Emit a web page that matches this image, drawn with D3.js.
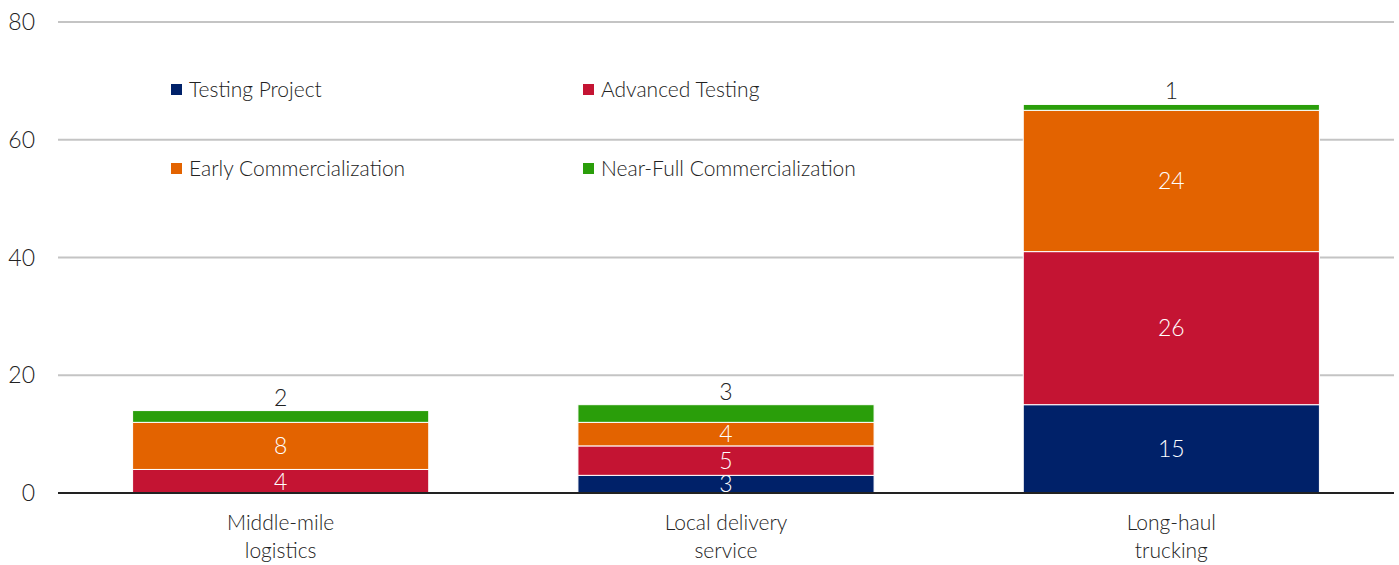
<!DOCTYPE html>
<html>
<head>
<meta charset="utf-8">
<script src="https://d3js.org/d3.v7.min.js"></script>
<style>
  body { margin: 0; background: #fff; }
  text { font-family: Lato, "Open Sans", sans-serif; font-weight: 300; fill: #222; }
</style>
</head>
<body>
<script>
// data
var categories = [["Middle-mile", "logistics"], ["Local delivery", "service"], ["Long-haul", "trucking"]];
var seriesNames = ["Testing Project", "Advanced Testing", "Early Commercialization", "Near-Full Commercialization"];
var testingProject = [0, 3, 15];
var advancedTesting = [4, 5, 26];
var earlyCommercialization = [8, 4, 24];
var nearFullCommercialization = [2, 3, 1];
var yTicks = [0, 20, 40, 60, 80];

var colors = ["#002169", "#C41433", "#E36300", "#2A9E0A"];

var w = 1399, h = 565;
var margin = {top: 22, right: 5, bottom: 72, left: 58};
var width = w - margin.left - margin.right,
    height = h - margin.top - margin.bottom;

var keys = categories.map(function(c) { return c.join(" "); });
var rows = keys.map(function(k, i) {
  return {cat: k, s0: testingProject[i], s1: advancedTesting[i], s2: earlyCommercialization[i], s3: nearFullCommercialization[i]};
});
var stack = d3.stack().keys(["s0", "s1", "s2", "s3"])(rows);

var x = d3.scaleBand().domain(keys).range([0, width]).paddingInner(0.335).paddingOuter(0.1675);
var y = d3.scaleLinear().domain([0, 80]).range([height, 0]);

var svg = d3.select("body").append("svg")
    .attr("width", w).attr("height", h)
  .append("g")
    .attr("transform", "translate(" + margin.left + "," + margin.top + ")");

// gridlines
svg.selectAll(".grid").data(yTicks.filter(function(d) { return d > 0; }))
  .enter().append("line")
    .attr("x1", 0).attr("x2", width)
    .attr("y1", function(d) { return y(d); }).attr("y2", function(d) { return y(d); })
    .attr("stroke", "#c4c4c4").attr("stroke-width", 2);

// y labels
svg.selectAll(".ylab").data(yTicks).enter().append("text")
    .attr("x", -23).attr("y", function(d) { return y(d); })
    .attr("dy", "0.35em").attr("text-anchor", "end")
    .style("font-size", "23px")
    .text(function(d) { return d; });

// bars
stack.forEach(function(layer, si) {
  svg.selectAll(".bar" + si).data(layer.filter(function(d) { return d[1] - d[0] > 0; }))
    .enter().append("rect")
      .attr("x", function(d) { return x(d.data.cat); })
      .attr("width", x.bandwidth())
      .attr("y", function(d) { return y(d[1]); })
      .attr("height", function(d) { return y(d[0]) - y(d[1]); })
      .attr("fill", colors[si])
      .attr("stroke", "#fff").attr("stroke-width", 1);
});

// axis line
svg.append("line")
    .attr("x1", 0).attr("x2", width)
    .attr("y1", y(0)).attr("y2", y(0))
    .attr("stroke", "#222").attr("stroke-width", 2);

// value labels
stack.forEach(function(layer, si) {
  var top = si === 3;
  svg.selectAll(".lab" + si).data(layer.filter(function(d) { return d[1] - d[0] > 0; }))
    .enter().append("text")
      .attr("x", function(d) { return x(d.data.cat) + x.bandwidth() / 2; })
      .attr("y", function(d) { return top ? y(d[1]) - 5 : (y(d[0]) + y(d[1])) / 2; })
      .attr("dy", top ? "0" : "0.36em")
      .attr("text-anchor", "middle")
      .style("font-size", "23px")
      .style("fill", top ? "#222" : "#fff")
      .text(function(d) { return d[1] - d[0]; });
});

// category labels
categories.forEach(function(c, i) {
  var t = svg.append("text")
      .attr("x", x(keys[i]) + x.bandwidth() / 2)
      .attr("y", height + 37)
      .attr("text-anchor", "middle")
      .style("font-size", "21px");
  c.forEach(function(line, j) {
    t.append("tspan").attr("x", x(keys[i]) + x.bandwidth() / 2)
      .attr("dy", j === 0 ? 0 : 28).text(line);
  });
});

// legend
var legPos = [[113, 68], [525, 68], [113, 147], [525, 147]];
seriesNames.forEach(function(name, i) {
  var g = svg.append("g").attr("transform", "translate(" + legPos[i][0] + "," + legPos[i][1] + ")");
  g.append("rect").attr("x", 0).attr("y", -6).attr("width", 11).attr("height", 11).attr("fill", colors[i]);
  g.append("text").attr("x", 18).attr("y", 0).attr("dy", "0.35em")
    .style("font-size", "21px").text(name);
});
</script>
</body>
</html>
